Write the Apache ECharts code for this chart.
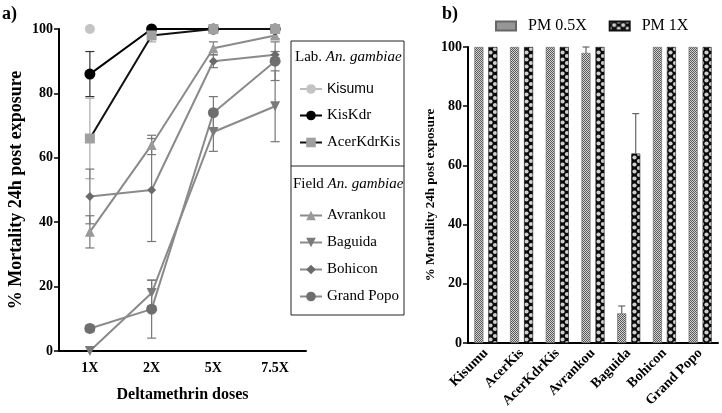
<!DOCTYPE html>
<html><head><meta charset="utf-8">
<script src="https://cdn.jsdelivr.net/npm/echarts@6/dist/echarts.min.js"></script>
<style>html,body{margin:0;padding:0;background:#fff}#c{width:722px;height:413px}</style>
</head><body><div id="c"></div>
<script>
// ---------- Data (panel a) ----------
const doses = ['1X', '2X', '5X', '7.5X'];
const kisumu = [100, 100, 100, 100];
const kiskdr = [86, 100, 100, 100];
const kiskdrErr = [7, 0, 0, 0];
const acerKdrKis = [66, 98, 100, 100];
const acerKdrKisErr = [12.5, 2, 0, 0];
const avrankou = [37, 64, 94, 98];
const avrankouErr = [5, 3, 2, 1];
const baguida = [0, 18, 68, 76];
const baguidaErr = [0, 4, 6, 11];
const bohicon = [48, 50, 90, 92];
const bohiconErr = [8.5, 16, 2, 1];
const grandPopo = [7, 13, 74, 90];
const grandPopoErr = [1, 9, 5, 6];
const yTicksA = [0, 20, 40, 60, 80, 100];

// ---------- Data (panel b) ----------
const strains = ['Kisumu', 'AcerKis', 'AcerKdrKis', 'Avrankou', 'Baguida', 'Bohicon', 'Grand Popo'];
const pm05 = [100, 100, 100, 98, 10, 100, 100];
const pm05Err = [0, 0, 0, 2, 2.5, 0, 0];
const pm1 = [100, 100, 100, 100, 64, 100, 100];
const pm1Err = [0, 0, 0, 0, 13.5, 0, 0];

const SERIF = '"Liberation Serif", "DejaVu Serif", serif';

function pattern05() {
  const c = document.createElement('canvas'); c.width = 2; c.height = 2;
  const x = c.getContext('2d');
  x.fillStyle = '#d2d2d2'; x.fillRect(0, 0, 2, 2);
  x.fillStyle = '#5a5a5a'; x.fillRect(0, 0, 1, 1); x.fillRect(1, 1, 1, 1);
  return c;
}
function pattern1() {
  const c = document.createElement('canvas'); c.width = 9; c.height = 7;
  const x = c.getContext('2d');
  x.fillStyle = '#0a0a0a'; x.fillRect(0, 0, 9, 7);
  x.fillStyle = '#cfcfcf';
  [[4.5, 3.5], [0, 0], [9, 0], [0, 7], [9, 7]].forEach(p => {
    x.beginPath(); x.arc(p[0], p[1], 2.1, 0, Math.PI * 2); x.fill();
  });
  return c;
}
const fill05 = { image: pattern05(), repeat: 'repeat' };
const fill1 = { image: pattern1(), repeat: 'repeat' };

function errData(vals, errs) {
  return vals.map((v, i) => [i, v, errs[i]]).filter(d => d[2] > 0);
}
function errSeriesA(vals, errs, color) {
  return {
    type: 'custom', xAxisIndex: 0, yAxisIndex: 0, z: 1, silent: true,
    data: errData(vals, errs),
    renderItem: function (params, api) {
      const i = api.value(0), v = api.value(1), e = api.value(2);
      const hi = api.coord([i, v + e]), lo = api.coord([i, v - e]);
      const w = 4.5;
      return { type: 'group', children: [
        { type: 'line', shape: { x1: hi[0], y1: hi[1], x2: lo[0], y2: lo[1] }, style: { stroke: color, lineWidth: 1.2 } },
        { type: 'line', shape: { x1: hi[0] - w, y1: hi[1], x2: hi[0] + w, y2: hi[1] }, style: { stroke: color, lineWidth: 1.2 } },
        { type: 'line', shape: { x1: lo[0] - w, y1: lo[1], x2: lo[0] + w, y2: lo[1] }, style: { stroke: color, lineWidth: 1.2 } }
      ] };
    }
  };
}
const BARW = 9, BARGAP = 5;
function errSeriesB(vals, errs, side) {
  return {
    type: 'custom', xAxisIndex: 1, yAxisIndex: 1, z: 5, silent: true,
    data: errData(vals, errs),
    renderItem: function (params, api) {
      const i = api.value(0), v = api.value(1), e = api.value(2);
      const off = side * (BARW + BARGAP) / 2;
      const hi = api.coord([i, v + e]), mid = api.coord([i, v]);
      const x = hi[0] + off, w = 3.5;
      return { type: 'group', children: [
        { type: 'line', shape: { x1: x, y1: hi[1], x2: x, y2: mid[1] }, style: { stroke: '#666', lineWidth: 1.2 } },
        { type: 'line', shape: { x1: x - w, y1: hi[1], x2: x + w, y2: hi[1] }, style: { stroke: '#666', lineWidth: 1.2 } }
      ] };
    }
  };
}

function lineSeries(name, data, lineColor, markColor, symbol, size, lw) {
  return {
    name: name, type: 'line', xAxisIndex: 0, yAxisIndex: 0, data: data,
    symbol: symbol, symbolSize: size, z: 3,
    lineStyle: { color: lineColor, width: lw === undefined ? 2 : lw },
    itemStyle: { color: markColor, borderWidth: 0 },
    emphasis: { disabled: true }
  };
}

const chart = echarts.init(document.getElementById('c'), null, { renderer: 'canvas' });
const axisLabelA = { fontFamily: SERIF, fontWeight: 'bold', fontSize: 14, color: '#000' };
const legendText = { fontFamily: SERIF, fontSize: 14, color: '#000' };
chart.setOption({
  animation: false,
  backgroundColor: '#fff',
  grid: [
    { left: 59, width: 247, top: 29, bottom: 62 },
    { left: 468, width: 250, top: 47, bottom: 70 }
  ],
  xAxis: [
    { type: 'category', gridIndex: 0, data: doses,
      axisLine: { lineStyle: { color: '#000', width: 2 } },
      axisTick: { alignWithLabel: true, length: 5, lineStyle: { color: '#000', width: 1.5 } },
      axisLabel: Object.assign({ margin: 10 }, axisLabelA),
      name: 'Deltamethrin doses', nameLocation: 'middle', nameGap: 36,
      nameTextStyle: { fontFamily: SERIF, fontWeight: 'bold', fontSize: 16, color: '#000' } },
    { type: 'category', gridIndex: 1, data: strains,
      axisLine: { lineStyle: { color: '#000', width: 2 } },
      axisTick: { alignWithLabel: true, length: 5, lineStyle: { color: '#000', width: 1.5 } },
      axisLabel: Object.assign({ rotate: 45, margin: 8, interval: 0 }, axisLabelA, { fontSize: 14 }) }
  ],
  yAxis: [
    { type: 'value', gridIndex: 0, min: yTicksA[0], max: yTicksA[yTicksA.length - 1], interval: 20,
      splitLine: { show: false },
      axisLine: { show: true, lineStyle: { color: '#000', width: 2 } },
      axisTick: { show: true, length: 5, lineStyle: { color: '#000', width: 1.5 } },
      axisLabel: Object.assign({ margin: 6 }, axisLabelA),
      name: '% Mortality 24h post exposure', nameLocation: 'middle', nameGap: 34,
      nameTextStyle: { fontFamily: SERIF, fontWeight: 'bold', fontSize: 18, color: '#000' } },
    { type: 'value', gridIndex: 1, min: 0, max: 100, interval: 20,
      splitLine: { show: false },
      axisLine: { show: true, lineStyle: { color: '#000', width: 2 } },
      axisTick: { show: true, length: 5, lineStyle: { color: '#000', width: 1.5 } },
      axisLabel: Object.assign({ margin: 6 }, axisLabelA),
      name: '% Mortality 24h post exposure', nameLocation: 'middle', nameGap: 22,
      nameTextStyle: { fontFamily: SERIF, fontWeight: 'bold', fontSize: 13, color: '#000' } }
  ],
  legend: [
    { data: [{ name: 'Kisumu', lineStyle: { width: 2, color: '#bdbdbd' } }, 'KisKdr', 'AcerKdrKis'],
      orient: 'vertical', left: 294, top: 77,
      itemWidth: 22, itemHeight: 12, itemGap: 12,
      formatter: n => n === 'Kisumu' ? '{s|Kisumu}' : n,
      textStyle: Object.assign({}, legendText, { fontSize: 15,
        rich: { s: { fontFamily: '"Liberation Sans", Arial, sans-serif', fontSize: 14, color: '#000' } } }) },
    { data: ['Avrankou', 'Baguida', 'Bohicon', 'Grand Popo'], orient: 'vertical', left: 294, top: 203,
      itemWidth: 22, itemHeight: 12, itemGap: 12,
      textStyle: Object.assign({}, legendText, { fontSize: 15 }) },
    { data: [{ name: 'PM 0.5X', icon: 'rect' }, { name: 'PM 1X', icon: 'rect' }], orient: 'horizontal', left: 490, top: 13,
      itemWidth: 20, itemHeight: 9, itemGap: 22,
      textStyle: { fontFamily: SERIF, fontSize: 16, color: '#000', padding: [0, 0, 0, 7] } }
  ],
  graphic: [
    { type: 'text', left: 2, top: 5, style: { text: 'a)', fontFamily: SERIF, fontWeight: 'bold', fontSize: 18, fill: '#000' } },
    { type: 'text', left: 442, top: 5, style: { text: 'b)', fontFamily: SERIF, fontWeight: 'bold', fontSize: 18, fill: '#000' } },
    { type: 'rect', shape: { x: 291, y: 41, width: 113, height: 274 }, style: { fill: 'none', stroke: '#222', lineWidth: 1 } },
    { type: 'line', shape: { x1: 291, y1: 166, x2: 404, y2: 166 }, style: { stroke: '#222', lineWidth: 1 } },
    { type: 'text', left: 295, top: 50, style: { text: 'Lab. {i|An. gambiae}', fontFamily: SERIF, fontSize: 15, fill: '#000',
        rich: { i: { fontFamily: SERIF, fontStyle: 'italic', fontSize: 15, fill: '#000' } } } },
    { type: 'text', left: 293, top: 177, style: { text: 'Field {i|An. gambiae}', fontFamily: SERIF, fontSize: 15, fill: '#000',
        rich: { i: { fontFamily: SERIF, fontStyle: 'italic', fontSize: 15, fill: '#000' } } } }
  ],
  series: [
    errSeriesA(kiskdr, kiskdrErr, '#333'),
    errSeriesA(acerKdrKis, acerKdrKisErr, '#aaa'),
    errSeriesA(avrankou, avrankouErr, '#777'),
    errSeriesA(baguida, baguidaErr, '#777'),
    errSeriesA(bohicon, bohiconErr, '#777'),
    errSeriesA(grandPopo, grandPopoErr, '#777'),
    lineSeries('Kisumu', kisumu, '#bdbdbd', '#c4c4c4', 'circle', 10, 0),
    lineSeries('Avrankou', avrankou, '#8a8a8a', '#9a9a9a', 'triangle', 10),
    lineSeries('Baguida', baguida, '#8a8a8a', '#7a7a7a', 'path://M0,0 L10,0 L5,9 Z', 10),
    lineSeries('Bohicon', bohicon, '#8a8a8a', '#6a6a6a', 'diamond', 9),
    lineSeries('Grand Popo', grandPopo, '#8a8a8a', '#6e6e6e', 'circle', 11),
    lineSeries('KisKdr', kiskdr, '#000', '#000', 'circle', 11),
    lineSeries('AcerKdrKis', acerKdrKis, '#111', '#a0a0a0', 'rect', 10),
    { name: 'PM 0.5X', type: 'bar', xAxisIndex: 1, yAxisIndex: 1, data: pm05,
      barWidth: BARW, barGap: (BARGAP / BARW * 100) + '%',
      itemStyle: { color: fill05, borderColor: '#666', borderWidth: 0.6 }, emphasis: { disabled: true } },
    { name: 'PM 1X', type: 'bar', xAxisIndex: 1, yAxisIndex: 1, data: pm1,
      barWidth: BARW,
      itemStyle: { color: fill1, borderColor: '#111', borderWidth: 0.6 }, emphasis: { disabled: true } },
    errSeriesB(pm05, pm05Err, -1),
    errSeriesB(pm1, pm1Err, 1)
  ]
});
</script>
</body></html>
